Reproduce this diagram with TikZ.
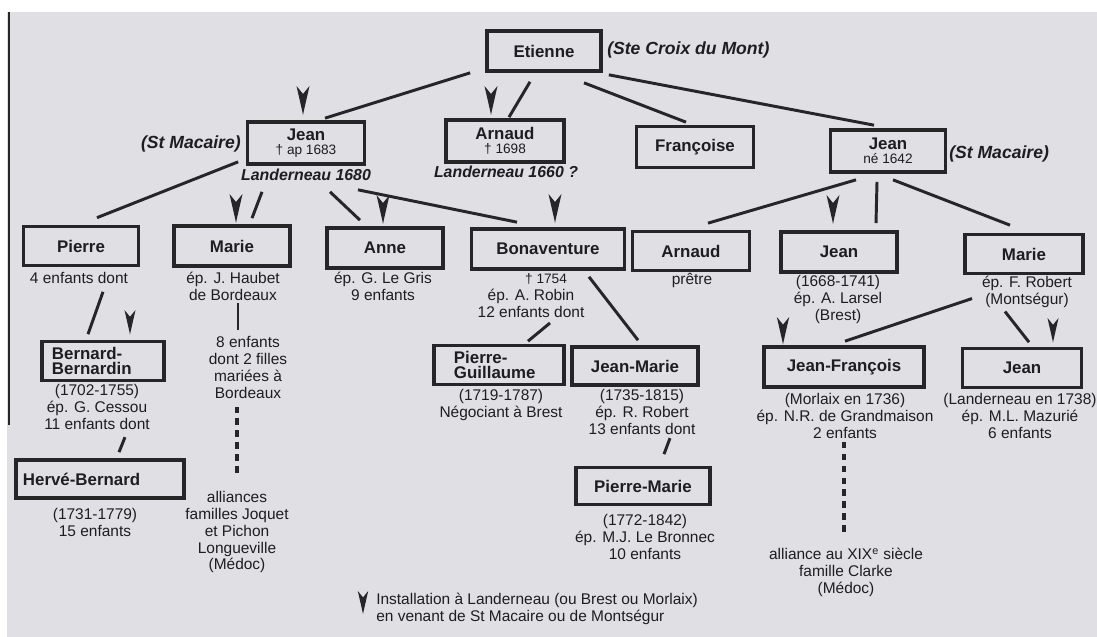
\documentclass[tikz,border=0pt]{standalone}
\usepackage{fontspec}
\setmainfont{Liberation Sans}
\usetikzlibrary{calc}
\definecolor{papier}{RGB}{224,223,228}
\definecolor{trait}{RGB}{38,38,40}
\definecolor{encre}{RGB}{30,30,32}
\newcommand{\nomfont}{\fontsize{12}{13}\selectfont\bfseries}
\newcommand{\infofont}{\fontsize{11}{12}\selectfont}
\newcommand{\petitfont}{\fontsize{9.7}{11}\selectfont\mdseries}
\newcommand{\lieufont}{\fontsize{12.5}{14}\selectfont\bfseries\itshape}
\newcommand{\villefont}{\fontsize{11.3}{13}\selectfont\bfseries\itshape}
\tikzset{
  pers/.style={draw=trait, line width=2.6pt, fill=papier, inner sep=1pt, font=\nomfont, align=center, text=encre},
  info/.style={font=\infofont, align=center, inner sep=0pt, anchor=north, text=encre},
  lieu/.style={font=\lieufont, inner sep=0pt, text=encre},
  lien/.style={draw=trait, line width=2.1pt},
  suite/.style={draw=trait, line width=2.2pt, dash pattern=on 4.5pt off 4pt},
  venue/.pic={\fill[trait] (-6.5,0) -- (0,8) -- (6.5,0) -- (0.8,25) -- (0,29) -- (-0.8,25) -- cycle;}
}

\begin{document}
\begin{tikzpicture}[x=0.025cm, y=-0.025cm]
    \useasboundingbox (0,0) rectangle (1097,637);
    % Paper
    \fill[white] (0,0) rectangle (1097,637);
    \fill[papier] (7,12) rectangle (1097,637);
    \draw[trait, line width=1.2pt] (9,12) -- (9,425);

    % Etienne
    \node[pers, minimum width=2.85cm, minimum height=1cm] (etienne) at (544,51) {Etienne};
    \node[lieu, anchor=west] (stecroix) at (607,50) {(Ste Croix du Mont)};

    % Generation 1
    \node[pers, minimum width=2.925cm, minimum height=1.05cm] (jeanA) at (306,143) {Jean\\[-3pt]{\petitfont † ap 1683}};
    \node[lieu, anchor=east] (stmacA) at (241,144) {(St Macaire)};
    \node[lieu, font=\villefont] (landA) at (306,175) {Landerneau 1680};
    \node[pers, minimum width=2.95cm, minimum height=1.05cm] (arnaudA) at (505,141) {Arnaud\\[-3pt]{\petitfont † 1698}};
    \node[lieu, font=\villefont] (landB) at (506,172) {Landerneau 1660 ?};
    \node[pers, minimum width=2.925cm, minimum height=1.025cm] (francoise) at (695,147) {Françoise};
    \node[pers, minimum width=2.875cm, minimum height=1.05cm] (jeanB) at (888,151) {Jean\\[-3pt]{\petitfont né 1642}};
    \node[lieu, anchor=west] (stmacB) at (949,154) {(St Macaire)};

    \draw[lien] ($(etienne.south west)+(-15,0)$) -- ($(jeanA.north)+(19,-2)$);
    \draw[lien] ($(etienne.south)+(-14,9)$) -- ($(arnaudA.north)+(4,-1)$);
    \draw[lien] ($(etienne.south)+(40,10)$) -- ($(francoise.north)+(-9,-2.5)$);
    \draw[lien] ($(etienne.south east)+(6,2)$) -- ($(jeanB.north)+(-14,-3)$);

    % Generation 2
    \node[pers, minimum width=2.875cm, minimum height=0.975cm] (pierre) at (81,246) {Pierre};
    \node[info] (pierreT) at (79,272) {4 enfants dont};
    \node[pers, minimum width=2.9cm, minimum height=1cm] (marie) at (232,246) {Marie};
    \node[info] (marieT) at (233,272) {ép. J. Haubet\\de Bordeaux};
    \node[info] (marieE) at (248,336) {8 enfants\\dont 2 filles\\mariées à\\Bordeaux};
    \node[info] (marieA) at (237,491) {alliances\\familles Joquet\\et Pichon\\Longueville\\(Médoc)};
    \node[pers, minimum width=2.9cm, minimum height=1cm] (anne) at (385,248) {Anne};
    \node[info] (anneT) at (383,272) {ép. G. Le Gris\\9 enfants};
    \node[pers, minimum width=3.825cm, minimum height=1cm] (bona) at (548,249) {Bonaventure};
    \node[info, font=\petitfont] (bonaD) at (546,273) {† 1754};
    \node[info] (bonaT) at (531,289) {ép. A. Robin\\12 enfants dont};
    \node[pers, minimum width=2.925cm, minimum height=0.975cm] (arnaudB) at (691,251) {Arnaud};
    \node[info] (arnaudBT) at (692,273) {prêtre};
    \node[pers, minimum width=2.9cm, minimum height=1cm] (jeanC) at (839,252) {Jean};
    \node[info] (jeanCT) at (838,275) {(1668-1741)\\ép. A. Larsel\\(Brest)};
    \node[pers, minimum width=2.95cm, minimum height=0.975cm] (marieB) at (1024,254) {Marie};
    \node[info] (marieBT) at (1027,276) {ép. F. Robert\\(Montségur)};

    \draw[lien] ($(jeanA.south west)+(-7.5,-4)$) -- ($(pierre.north)+(16,-7)$);
    \draw[lien] ($(jeanA.south)+(-44,26)$) -- ($(marie.north)+(20,-6)$);
    \draw[lien] ($(jeanA.south)+(24,26)$) -- ($(anne.north)+(-25,-6)$);
    \draw[lien] ($(jeanA.south)+(52,24)$) -- ($(bona.north)+(-31,-5)$);
    \draw[lien] ($(jeanB.south)+(-32,6)$) -- ($(arnaudB.north)+(17,-6.5)$);
    \draw[lien] ($(jeanB.south)+(-11,8)$) -- ($(jeanC.north)+(37,-7)$);
    \draw[lien] ($(jeanB.south)+(5,6)$) -- ($(marieB.north)+(-14,-7.5)$);

    % Generation 3
    \node[pers, minimum width=3.05cm, minimum height=0.975cm, text width=2.55cm, align=left] (bernardB) at (103,361) {Bernard-\\[-2pt]Bernardin};
    \node[info] (bernardT) at (97,384) {(1702-1755)\\ép. G. Cessou\\11 enfants dont};
    \node[pers, minimum width=4.2cm, minimum height=0.95cm, text width=3.85cm, align=left] (herveB) at (100,479) {Hervé-Bernard};
    \node[info] (herveT) at (95,508) {(1731-1779)\\15 enfants};
    \node[pers, minimum width=3.25cm, minimum height=0.975cm, text width=2.25cm, align=left] (pierreG) at (499,365) {Pierre-\\[-2pt]Guillaume};
    \node[info] (pierreGT) at (501,389) {(1719-1787)\\Négociant à Brest};
    \node[pers, minimum width=3.15cm, minimum height=0.95cm] (jeanM) at (635,366) {Jean-Marie};
    \node[info] (jeanMT) at (642,389) {(1735-1815)\\ép. R. Robert\\13 enfants dont};
    \node[pers, minimum width=3.35cm, minimum height=0.925cm] (pierreM) at (643,486) {Pierre-Marie};
    \node[info] (pierreMT) at (645,514) {(1772-1842)\\ép. M.J. Le Bronnec\\10 enfants};
    \node[pers, minimum width=4cm, minimum height=1cm] (jeanF) at (844,367) {Jean-François};
    \node[info] (jeanFT) at (845,393) {(Morlaix en 1736)\\ép. N.R. de Grandmaison\\2 enfants};
    \node[info] (jeanFA) at (846,548) {alliance au XIX\textsuperscript{e} siècle\\famille Clarke\\(Médoc)};
    \node[pers, minimum width=2.975cm, minimum height=0.975cm] (jeanD) at (1022,368) {Jean};
    \node[info] (jeanDT) at (1020,393) {(Landerneau en 1738)\\ép. M.L. Mazurié\\6 enfants};

    \draw[lien] ($(pierre.south)+(22,24.5)$) -- ($(bernardB.north)+(-15,-5.5)$);
    \draw[lien] ($(bernardT.south)+(28,7.5)$) -- ($(herveB.north)+(19,-6)$);
    \draw[lien] ($(marieT.south)+(5,2)$) -- ($(marieE.north)+(-10,-6)$);
    \draw[suite] ($(marieE.south)+(-11,8)$) -- ($(marieA.north)+(0,-15)$);
    \draw[lien] ($(bonaT.south)+(19,5)$) -- ($(pierreG.north)+(29,-2.5)$);
    \draw[lien] ($(bona.south)+(41,6)$) -- ($(jeanM.north)+(3,-5)$);
    \draw[lien] ($(jeanMT.south)+(28,3.5)$) -- ($(pierreM.north)+(21,-11.5)$);
    \draw[suite] ($(jeanFT.south)+(-1,3)$) -- ($(jeanFA.north)+(-2,-11)$);
    \draw[lien] ($(marieBT.south)+(-55,-9.5)$) -- ($(jeanF.north)+(1,-4)$);
    \draw[lien] ($(marieBT.south)+(-22,3.5)$) -- ($(jeanD.north)+(7,-4.5)$);

    % Arrivals
    \pic at (303,86) {venue};
    \pic at (491,86) {venue};
    \pic at (236,194) {venue};
    \pic at (383,195) {venue};
    \pic at (555,194) {venue};
    \pic at (833,195) {venue};
    \pic[scale=0.85] at (130,310) {venue};
    \pic[scale=0.95] at (783,317) {venue};
    \pic[scale=0.85] at (1053,318) {venue};

    % Legend
    \pic[scale=0.8] at (363,591) {venue};
    \node[info, anchor=west, align=left] (legende) at (376,609) {Installation à Landerneau (ou Brest ou Morlaix)\\en venant de St Macaire ou de Montségur};
\end{tikzpicture}
\end{document}
